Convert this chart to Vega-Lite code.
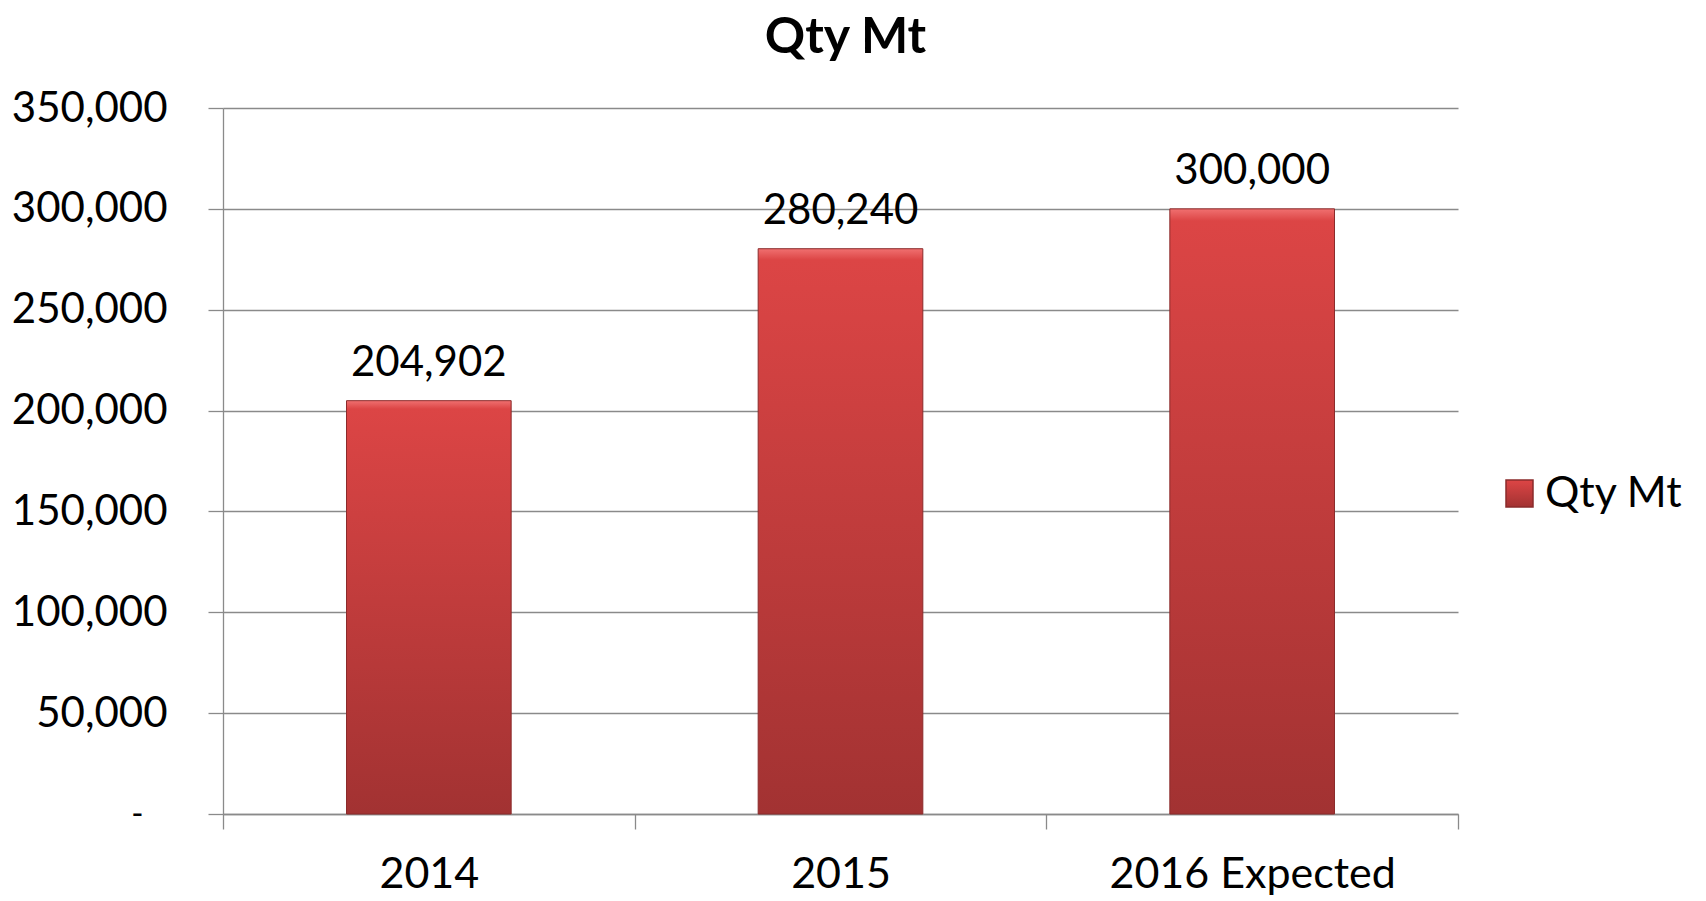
{
  "$schema": "https://vega.github.io/schema/vega-lite/v6.json",
  "autosize": "none",
  "width": 1235,
  "height": 706,
  "padding": {"left": 223, "top": 108, "right": 248, "bottom": 87},
  "background": "white",
  "title": {"text": "Qty Mt", "font": "Lato", "fontSize": 50, "fontWeight": "bold", "color": "black", "anchor": "middle", "offset": 24, "dx": 5},
  "config": {"font": "Lato", "view": {"stroke": null}},
  "data": {"values": [
    {"year": "2014", "qty": 204902, "series": "Qty Mt"},
    {"year": "2015", "qty": 280240, "series": "Qty Mt"},
    {"year": "2016 Expected", "qty": 300000, "series": "Qty Mt"}
  ]},
  "encoding": {
    "x": {"field": "year", "type": "nominal", "sort": null, "title": null,
      "scale": {"paddingInner": 0, "paddingOuter": 0},
      "axis": {"labelAngle": 0, "tickBand": "extent", "grid": false, "ticks": true, "tickSize": 15, "tickColor": "#8a8a8a", "tickWidth": 1.3, "labelLimit": 0,
        "domainColor": "#8a8a8a", "domainWidth": 1.3, "labelFont": "Lato", "labelFontSize": 43, "labelColor": "black", "labelPadding": 24}},
    "y": {"field": "qty", "type": "quantitative", "title": null,
      "scale": {"domain": [0, 350000], "nice": false},
      "axis": {"values": [0, 50000, 100000, 150000, 200000, 250000, 300000, 350000],
        "labelExpr": "datum.value == 0 ? '-\u2800' : format(datum.value, ',')",
        "labelFontSize": {"condition": {"test": "datum.value == 0", "value": 33}, "value": 42},
        "grid": true, "gridColor": "#8a8a8a", "gridWidth": 1.3, "tickSize": 15, "tickColor": "#8a8a8a", "tickWidth": 1.3,
        "domainColor": "#8a8a8a", "domainWidth": 1.3, "labelFont": "Lato", "labelColor": "black", "labelPadding": 41}}
  },
  "layer": [
    {
      "mark": {"type": "bar", "strokeWidth": 1, "width": {"band": 0.4},
        "fill": {"gradient": "linear", "x1": 0, "y1": 0, "x2": 0, "y2": 1,
          "stops": [{"offset": 0, "color": "#F07070"}, {"offset": 0.02, "color": "#DC4545"}, {"offset": 1, "color": "#A23232"}]}},
      "encoding": {
        "stroke": {"field": "series", "type": "nominal", "scale": {"range": ["#8B2B2B"]},
          "legend": {"title": null, "orient": "none", "legendX": 1275, "legendY": 364, "padding": 0,
            "symbolType": "square", "symbolSize": 729, "labelFont": "Lato", "labelFontSize": 43, "labelColor": "black", "labelOffset": 4,
            "encode": {"symbols": {"update": {
              "fill": {"value": {"gradient": "linear", "x1": 0, "y1": 0, "x2": 0, "y2": 1,
                "stops": [{"offset": 0, "color": "#F07070"}, {"offset": 0.1, "color": "#DC4545"}, {"offset": 1, "color": "#A23232"}]}},
              "stroke": {"value": "#8B2B2B"}, "strokeWidth": {"value": 1}, "opacity": {"value": 1}}}}}}
      }
    },
    {
      "mark": {"type": "text", "font": "Lato", "fontSize": 42, "color": "black", "baseline": "alphabetic", "dy": -25},
      "encoding": {"text": {"field": "qty", "type": "quantitative", "format": ","}}
    }
  ]
}
